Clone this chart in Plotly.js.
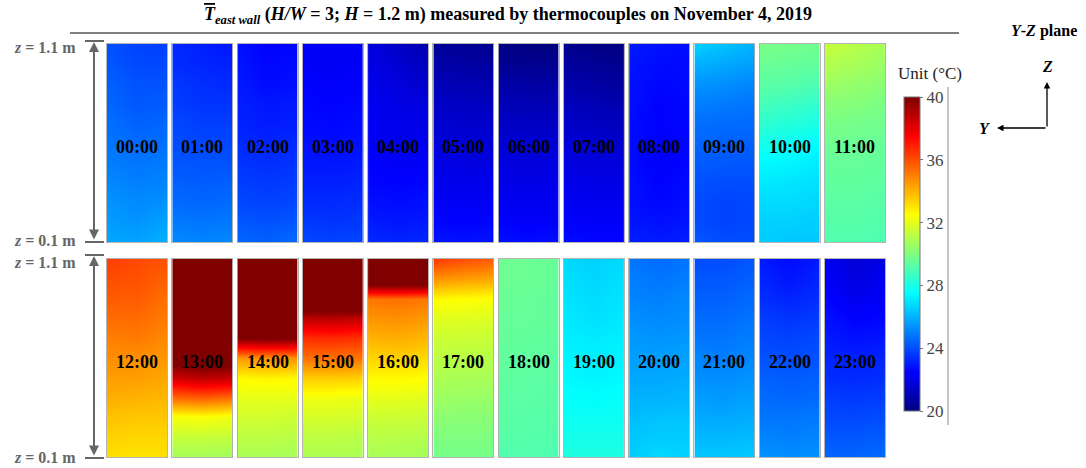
<!DOCTYPE html>
<html>
<head>
<meta charset="utf-8">
<script src="https://cdn.plot.ly/plotly-3.0.1.min.js"></script>
<style>html,body{margin:0;padding:0;background:#fff;}#chart{width:1086px;height:468px;}</style>
</head>
<body>
<div id="chart"></div>
<script>
// ---------------- DATA ----------------
const hourLabels = ['00:00','01:00','02:00','03:00','04:00','05:00','06:00','07:00','08:00','09:00','10:00','11:00',
                    '12:00','13:00','14:00','15:00','16:00','17:00','18:00','19:00','20:00','21:00','22:00','23:00'];
// measurement heights (m), top to bottom
const zLevels = [1.1,1.0,0.9,0.8,0.7,0.6,0.5,0.4,0.3,0.2,0.1];
// horizontal positions across the wall (normalized)
const yPos = [0, 0.5, 1];
const colorTicks = [20,24,28,32,36,40];

// Temperature (°C), rows = zLevels (top -> bottom), columns = yPos
const T00 = [[24.1,23.8,23.7],[24.2,23.9,23.9],[24.4,24.1,24.1],[24.5,24.2,24.3],[24.7,24.4,24.5],[24.8,24.6,24.7],[25.0,24.8,24.9],[25.2,25.0,25.1],[25.4,25.2,25.4],[25.6,25.4,25.7],[25.8,25.7,26.0]];
const T01 = [[23.3,23.1,22.9],[23.4,23.2,23.1],[23.6,23.4,23.3],[23.7,23.5,23.5],[23.9,23.7,23.7],[24.0,23.9,23.9],[24.2,24.1,24.1],[24.4,24.3,24.4],[24.6,24.5,24.6],[24.9,24.8,24.9],[25.2,25.1,25.2]];
const T02 = [[22.8,22.5,22.6],[22.9,22.6,22.7],[23.0,22.7,22.8],[23.1,22.9,23.0],[23.2,23.0,23.1],[23.3,23.2,23.3],[23.5,23.4,23.5],[23.7,23.6,23.7],[23.9,23.8,23.9],[24.2,24.1,24.2],[24.5,24.4,24.6]];
const T03 = [[22.4,22.3,22.3],[22.4,22.3,22.4],[22.5,22.4,22.5],[22.6,22.5,22.6],[22.7,22.6,22.7],[22.8,22.7,22.8],[22.9,22.9,23.0],[23.1,23.1,23.2],[23.3,23.3,23.4],[23.6,23.5,23.6],[23.9,23.8,23.9]];
const T04 = [[21.9,21.4,20.9],[22.0,21.6,21.2],[22.1,21.8,21.5],[22.2,22.0,21.8],[22.3,22.1,22.0],[22.4,22.2,22.2],[22.5,22.3,22.4],[22.6,22.5,22.6],[22.8,22.7,22.8],[23.0,22.9,23.0],[23.3,23.2,23.3]];
const T05 = [[20.5,20.4,20.3],[20.8,20.7,20.6],[21.1,21.0,20.9],[21.4,21.3,21.2],[21.6,21.5,21.5],[21.8,21.7,21.7],[22.0,21.9,21.9],[22.2,22.1,22.2],[22.4,22.3,22.4],[22.6,22.5,22.6],[22.9,22.8,22.9]];
const T06 = [[20.1,20.0,20.0],[20.4,20.3,20.3],[20.8,20.7,20.7],[21.1,21.0,21.0],[21.4,21.3,21.3],[21.7,21.6,21.6],[21.9,21.8,21.9],[22.1,22.0,22.1],[22.3,22.2,22.3],[22.5,22.4,22.5],[22.8,22.7,22.8]];
const T07 = [[20.3,20.1,20.0],[20.6,20.4,20.3],[20.9,20.7,20.6],[21.2,21.0,20.9],[21.4,21.3,21.2],[21.7,21.6,21.5],[21.9,21.8,21.8],[22.1,22.0,22.0],[22.3,22.2,22.2],[22.5,22.4,22.4],[22.7,22.6,22.6]];
const T08 = [[23.0,22.8,22.7],[22.9,22.7,22.7],[22.8,22.6,22.7],[22.8,22.5,22.6],[22.7,22.5,22.6],[22.7,22.4,22.6],[22.7,22.4,22.6],[22.8,22.5,22.7],[22.8,22.6,22.8],[22.9,22.8,22.9],[23.1,23.0,23.1]];
const T09 = [[26.6,26.3,26.0],[26.0,25.8,25.6],[25.4,25.3,25.1],[25.0,24.9,24.8],[24.7,24.6,24.6],[24.5,24.4,24.4],[24.3,24.2,24.2],[24.1,24.0,24.0],[24.0,23.8,23.9],[24.0,23.8,23.9],[24.2,24.0,24.0]];
const T10 = [[29.9,29.8,29.7],[29.6,29.5,29.4],[29.3,29.2,29.0],[28.9,28.7,28.5],[28.4,28.2,28.0],[27.9,27.7,27.5],[27.4,27.3,27.1],[27.1,27.0,26.9],[26.8,26.8,26.7],[26.6,26.6,26.5],[26.5,26.4,26.4]];
const T11 = [[31.4,31.1,30.8],[31.0,30.8,30.5],[30.6,30.4,30.2],[30.2,30.1,29.9],[29.9,29.8,29.7],[29.7,29.6,29.5],[29.5,29.5,29.4],[29.4,29.4,29.3],[29.3,29.3,29.2],[29.2,29.2,29.1],[29.1,29.1,29.0]];
const T12 = [[36.3,36.1,35.9],[36.0,35.9,35.6],[35.7,35.7,35.3],[35.4,35.4,35.1],[35.0,35.1,34.8],[34.7,34.7,34.5],[34.4,34.4,34.2],[34.1,34.0,33.9],[33.7,33.6,33.6],[33.4,33.3,33.3],[33.1,33.0,33.1]];
const T13 = [[44.0,44.0,44.0],[44.0,44.0,44.0],[44.0,44.0,44.0],[43.0,43.0,43.0],[42.0,42.0,42.0],[40.8,41.0,40.8],[38.4,38.8,38.6],[35.4,35.6,35.3],[32.3,32.4,32.2],[31.4,31.4,31.3],[30.7,30.7,30.6]];
const T14 = [[45.0,45.0,45.0],[45.0,45.0,45.0],[44.0,44.0,44.0],[42.5,42.5,42.5],[40.0,40.2,40.1],[34.5,34.7,34.6],[32.6,32.7,32.6],[32.0,32.0,32.0],[31.6,31.6,31.5],[31.2,31.2,31.1],[30.8,30.8,30.7]];
const T15 = [[45.0,45.0,45.0],[44.0,44.0,44.0],[42.0,42.0,42.0],[38.8,38.9,38.7],[36.6,36.7,36.5],[35.3,35.3,35.2],[33.5,33.5,33.4],[32.2,32.2,32.1],[31.7,31.7,31.6],[31.2,31.2,31.1],[30.9,30.9,30.8]];
const T16 = [[44.0,44.0,44.0],[42.0,42.0,42.0],[35.2,35.3,35.1],[34.6,34.7,34.5],[34.0,34.1,33.9],[33.3,33.4,33.2],[32.6,32.6,32.5],[32.0,32.0,31.9],[31.5,31.5,31.4],[31.1,31.1,31.0],[30.8,30.8,30.7]];
const T17 = [[36.4,36.0,35.7],[34.6,34.4,34.2],[32.6,32.5,32.4],[31.9,31.9,31.8],[31.5,31.5,31.4],[31.2,31.1,31.1],[30.9,30.8,30.8],[30.6,30.5,30.5],[30.3,30.2,30.2],[30.0,30.0,30.0],[29.8,29.8,29.8]];
const T18 = [[29.7,29.6,29.5],[29.6,29.6,29.5],[29.6,29.5,29.4],[29.5,29.5,29.4],[29.5,29.4,29.4],[29.4,29.4,29.3],[29.4,29.3,29.3],[29.3,29.3,29.2],[29.3,29.2,29.2],[29.2,29.2,29.1],[29.1,29.1,29.0]];
const T19 = [[26.8,26.6,26.8],[26.9,26.7,26.9],[27.0,26.8,27.0],[27.1,26.9,27.1],[27.2,27.1,27.2],[27.3,27.2,27.3],[27.4,27.3,27.4],[27.6,27.5,27.6],[27.7,27.7,27.7],[27.9,27.9,27.9],[28.1,28.1,28.1]];
const T20 = [[24.8,24.6,24.8],[25.0,24.8,25.0],[25.1,25.0,25.2],[25.3,25.2,25.3],[25.5,25.4,25.5],[25.6,25.6,25.7],[25.8,25.8,25.9],[26.0,26.0,26.1],[26.2,26.3,26.3],[26.4,26.5,26.5],[26.5,26.8,26.6]];
const T21 = [[24.0,24.0,24.2],[24.2,24.2,24.4],[24.4,24.4,24.6],[24.6,24.6,24.8],[24.8,24.8,25.0],[25.1,25.0,25.2],[25.3,25.3,25.4],[25.6,25.5,25.7],[25.8,25.8,25.9],[26.1,26.1,26.2],[26.4,26.4,26.5]];
const T22 = [[23.0,22.7,23.0],[23.2,22.9,23.2],[23.4,23.2,23.4],[23.7,23.5,23.7],[23.9,23.8,23.9],[24.1,24.0,24.1],[24.4,24.3,24.4],[24.6,24.5,24.6],[24.8,24.8,24.9],[25.1,25.0,25.1],[25.4,25.3,25.4]];
const T23 = [[22.3,21.7,22.0],[22.4,21.9,22.2],[22.6,22.2,22.4],[22.8,22.5,22.6],[23.0,22.8,22.9],[23.2,23.1,23.2],[23.4,23.3,23.4],[23.7,23.6,23.7],[23.9,23.9,24.0],[24.2,24.2,24.3],[24.5,24.5,24.6]];
const panels = [T00,T01,T02,T03,T04,T05,T06,T07,T08,T09,T10,T11,T12,T13,T14,T15,T16,T17,T18,T19,T20,T21,T22,T23];

// ---------------- LAYOUT ----------------
const W = 1086, H = 468;
const SERIF = 'Liberation Serif, Times New Roman, serif';
const jet = [[0,'rgb(0,0,128)'],[0.125,'rgb(0,0,255)'],[0.375,'rgb(0,255,255)'],[0.625,'rgb(255,255,0)'],[0.875,'rgb(255,0,0)'],[1,'rgb(128,0,0)']];
const rowTop = [44, 259], rowBottom = [242, 457];
const left0 = 107, pitch = 65.27, pw = 60;
const px = v => v / W, py = v => 1 - v / H;

const data = [];
const layout = {
  width: W, height: H,
  margin: {l:0, r:0, t:0, b:0},
  paper_bgcolor: '#fff', plot_bgcolor: '#fff',
  showlegend: false,
  font: {family: SERIF, color: '#000'},
  coloraxis: {
    colorscale: jet, cmin: 20, cmax: 40,
    colorbar: {
      x: px(904), xanchor: 'left', xpad: 0, ypad: 0,
      y: py(254), yanchor: 'middle',
      thickness: 16, thicknessmode: 'pixels',
      len: 314, lenmode: 'pixels',
      outlinewidth: 1, outlinecolor: '#777',
      tickvals: colorTicks, ticktext: colorTicks.map(String),
      ticks: 'outside', ticklen: 3, tickcolor: '#777',
      tickfont: {family: SERIF, size: 17, color: '#444'}
    }
  },
  annotations: [], shapes: []
};

panels.forEach((T, i) => {
  const r = i < 12 ? 0 : 1, c = i % 12;
  const n = i + 1, sx = n === 1 ? '' : String(n);
  const l = left0 + c * pitch;
  data.push({
    type: 'heatmap', x: yPos, y: zLevels, z: T,
    xaxis: 'x' + sx, yaxis: 'y' + sx,
    coloraxis: 'coloraxis', zsmooth: 'best', hoverinfo: 'skip'
  });
  const ax = {showgrid:false, zeroline:false, showticklabels:false, ticks:'', showline:true, mirror:true,
              linecolor:'rgba(40,40,40,0.35)', linewidth:1, fixedrange:true};
  layout['xaxis' + sx] = Object.assign({}, ax, {domain:[px(l), px(l + pw)], range:[0,1], anchor:'y' + sx});
  layout['yaxis' + sx] = Object.assign({}, ax, {domain:[py(rowBottom[r]), py(rowTop[r])], range:[0.1,1.1], anchor:'x' + sx});
  layout.annotations.push({
    xref: 'x' + sx + ' domain', yref: 'y' + sx + ' domain', x: 0.5, y: 0.48,
    text: '<b>' + hourLabels[i] + '</b>', showarrow: false,
    font: {family: SERIF, size: 18, color: '#000'}
  });
});

// Title
layout.annotations.push({
  xref:'paper', yref:'paper', x: px(508), y: py(16), xanchor:'center', yanchor:'middle',
  text: '<b><span style="text-decoration:overline"><i>T</i></span><sub><i>east wall</i></sub> (<i>H/W</i> = 3; <i>H</i> = 1.2 m) measured by thermocouples on November 4, 2019</b>',
  showarrow:false, font:{family:SERIF, size:18, color:'#000'}
});
layout.shapes.push({type:'line', xref:'paper', yref:'paper', x0:px(70), x1:px(959), y0:py(33), y1:py(33), line:{color:'#555', width:1.5}});

// Y-Z plane label and axes
layout.annotations.push({xref:'paper', yref:'paper', x:px(1044), y:py(31), xanchor:'center', yanchor:'middle',
  text:'<b><i>Y</i>-<i>Z</i> plane</b>', showarrow:false, font:{family:SERIF, size:16, color:'#000'}});
layout.annotations.push({xref:'paper', yref:'paper', x:px(1047), y:py(67), xanchor:'center', yanchor:'middle',
  text:'<b><i>Z</i></b>', showarrow:false, font:{family:SERIF, size:16, color:'#000'}});
layout.annotations.push({xref:'paper', yref:'paper', x:px(984), y:py(128), xanchor:'center', yanchor:'middle',
  text:'<b><i>Y</i></b>', showarrow:false, font:{family:SERIF, size:16, color:'#000'}});
layout.annotations.push({xref:'paper', yref:'paper', x:px(1047), y:py(82), ax:0, ay:46,
  text:'', showarrow:true, arrowhead:2, arrowsize:1, arrowwidth:1.3, arrowcolor:'#000'});
layout.annotations.push({xref:'paper', yref:'paper', x:px(997), y:py(128), ax:50, ay:0,
  text:'', showarrow:true, arrowhead:2, arrowsize:1, arrowwidth:1.3, arrowcolor:'#000'});

// Unit label and divider
layout.annotations.push({xref:'paper', yref:'paper', x:px(930), y:py(73), xanchor:'center', yanchor:'middle',
  text:'Unit (°C)', showarrow:false, font:{family:SERIF, size:17, color:'#222'}});
layout.shapes.push({type:'line', xref:'paper', yref:'paper', x0:px(948), x1:px(948), y0:py(87), y1:py(425), line:{color:'#888', width:1}});

// Height markers on left
const gray = '#666';
[[41,242],[255,458]].forEach(([t,b]) => {
  layout.shapes.push({type:'line', xref:'paper', yref:'paper', x0:px(85), x1:px(104), y0:py(t), y1:py(t), line:{color:gray, width:2}});
  layout.shapes.push({type:'line', xref:'paper', yref:'paper', x0:px(85), x1:px(104), y0:py(b), y1:py(b), line:{color:gray, width:2}});
  layout.annotations.push({xref:'paper', yref:'paper', x:px(94), y:py(t + 1), ax:0, ay:(b - t - 2),
    text:'', showarrow:true, arrowhead:2, startarrowhead:2, arrowside:'end+start', arrowsize:1, arrowwidth:2, arrowcolor:gray});
  layout.annotations.push({xref:'paper', yref:'paper', x:px(78), y:py(t + 7), xanchor:'right', yanchor:'middle',
    text:'<b><i>z</i> = 1.1 m</b>', showarrow:false, font:{family:SERIF, size:16, color:gray}});
  layout.annotations.push({xref:'paper', yref:'paper', x:px(78), y:py(b - 1), xanchor:'right', yanchor:'middle',
    text:'<b><i>z</i> = 0.1 m</b>', showarrow:false, font:{family:SERIF, size:16, color:gray}});
});

Plotly.newPlot('chart', data, layout, {displayModeBar:false, staticPlot:true});
</script>
</body>
</html>
